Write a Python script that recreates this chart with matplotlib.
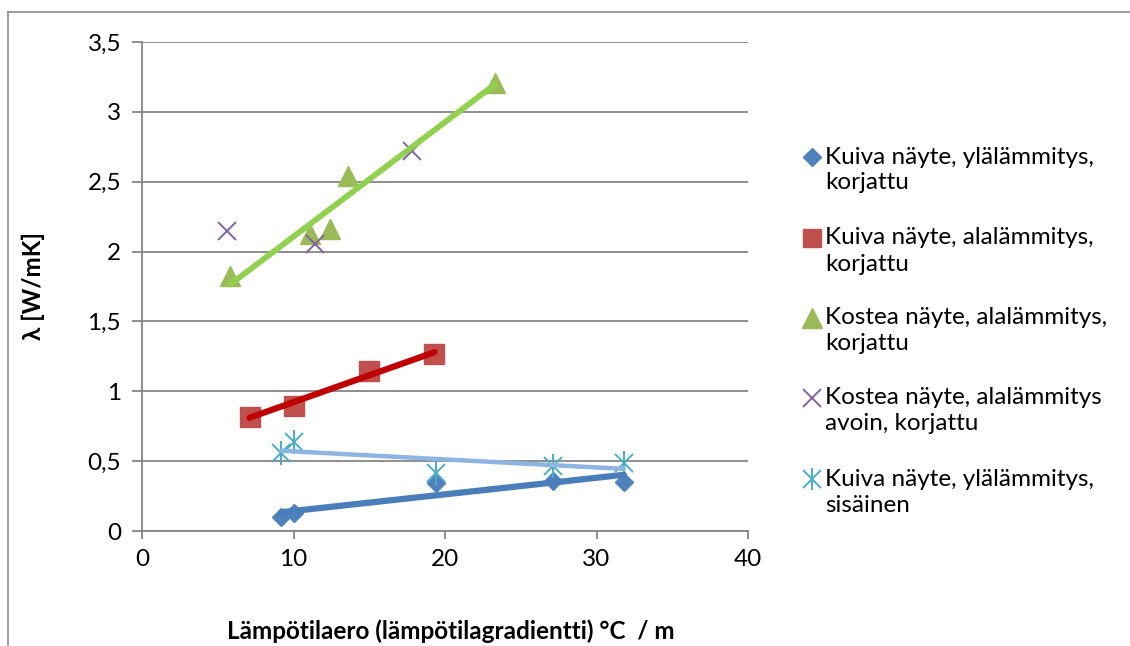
import numpy as np
import matplotlib
matplotlib.use("Agg")
import matplotlib.pyplot as plt
from matplotlib.lines import Line2D
from matplotlib.ticker import FuncFormatter, MultipleLocator

plt.rcParams['font.family'] = ['Lato', 'DejaVu Sans']

# data
kuiva_yla_x = [9.2, 10.0, 19.4, 27.1, 31.8]
kuiva_yla_y = [0.098, 0.127, 0.346, 0.358, 0.353]

kuiva_ala_x = [7.1, 10.0, 15.0, 19.3]
kuiva_ala_y = [0.819, 0.897, 1.146, 1.265]

kostea_ala_x = [5.8, 11.1, 12.4, 13.6, 23.3]
kostea_ala_y = [1.822, 2.128, 2.164, 2.541, 3.209]

kostea_avoin_x = [5.6, 11.4, 17.8]
kostea_avoin_y = [2.147, 2.051, 2.72]

sisainen_x = [9.2, 10.0, 19.4, 27.1, 31.8]
sisainen_y = [0.561, 0.640, 0.418, 0.468, 0.489]

labels = ["Kuiva näyte, ylälämmitys,\nkorjattu",
          "Kuiva näyte, alalämmitys,\nkorjattu",
          "Kostea näyte, alalämmitys,\nkorjattu",
          "Kostea näyte, alalämmitys\navoin, korjattu",
          "Kuiva näyte, ylälämmitys,\nsisäinen"]

fs = 17.5
fig = plt.figure(figsize=(11.3, 6.46), dpi=100)
ax = fig.add_axes([142/1130, 1-531/646, 606/1130, 489/646])

grid_c = '#868686'

ax.plot(kuiva_yla_x, kuiva_yla_y, ls='none', marker='D', ms=9, color='#4F81BD', zorder=3)
ax.plot(kuiva_ala_x, kuiva_ala_y, ls='none', marker='s', ms=14, color='#C0504D', zorder=3)
ax.plot(kostea_ala_x, kostea_ala_y, ls='none', marker='^', ms=15, color='#9BBB59', zorder=3)
ax.plot(kostea_avoin_x, kostea_avoin_y, ls='none', marker='x', ms=13, mew=1.4, color='#8064A2', zorder=3)
ax.plot(sisainen_x, sisainen_y, ls='none', marker='x', ms=13, mew=1.4, color='#4BACC6', zorder=3)
ax.plot(sisainen_x, sisainen_y, ls='none', marker='|', ms=17, mew=1.4, color='#4BACC6', zorder=3)

# linear trendlines
def trend(x, y, color, lw):
    k, b = np.polyfit(x, y, 1)
    xs = np.array([min(x), max(x)])
    ax.plot(xs, k*xs + b, color=color, lw=lw, solid_capstyle='round', zorder=4)

trend(kuiva_yla_x, kuiva_yla_y, '#4A7EBB', 4.5)
trend(kuiva_ala_x, kuiva_ala_y, '#C00000', 4.5)
trend(kostea_ala_x, kostea_ala_y, '#92D050', 4.2)
trend(sisainen_x, sisainen_y, '#8DB4E2', 3.2)

ax.set_xlim(0, 40)
ax.set_ylim(0, 3.5)
ax.xaxis.set_major_locator(MultipleLocator(10))
ax.yaxis.set_major_locator(MultipleLocator(0.5))
ax.yaxis.set_major_formatter(FuncFormatter(lambda v, p: ('%g' % v).replace('.', ',')))
ax.grid(axis='y', color=grid_c, lw=1.3)
ax.set_axisbelow(True)
for s in ['top', 'right']:
    ax.spines[s].set_visible(False)
for s in ['left', 'bottom']:
    ax.spines[s].set_color(grid_c)
    ax.spines[s].set_linewidth(1.3)
ax.tick_params(axis='both', colors=grid_c, labelcolor='black', labelsize=fs, width=1.3)
ax.tick_params(axis='y', length=7, pad=8)
ax.tick_params(axis='x', length=6, pad=7)

ax.set_xlabel("Lämpötilaero (lämpötilagradientti) °C  / m", fontsize=fs, fontweight='bold')
ax.set_ylabel("λ [W/mK]", fontsize=fs, fontweight='bold')
ax.xaxis.set_label_coords(0.51, -0.18)
ax.yaxis.set_label_coords(-0.16, 0.5)

# legend on the right
leg_specs = [dict(marker='D', ms=9, color='#4F81BD'),
             dict(marker='s', ms=13, color='#C0504D'),
             dict(marker='^', ms=14, color='#9BBB59'),
             dict(marker='x', ms=13, mew=1.4, color='#8064A2'),
             dict(marker='x', ms=13, mew=1.4, color='#4BACC6')]
leg_y = [157, 238, 318, 398, 479]
for spec, lab, yp in zip(leg_specs, labels, leg_y):
    fy = 1 - yp/646
    fig.add_artist(Line2D([812/1130], [fy], ls='none', transform=fig.transFigure, **spec))
    if spec['color'] == '#4BACC6':
        fig.add_artist(Line2D([812/1130], [fy], ls='none', marker='|', ms=16, mew=1.4,
                              color='#4BACC6', transform=fig.transFigure))
    for i, line in enumerate(lab.split('\n')):
        fig.text(825/1130, 1 - (yp + 26*i)/646, line, fontsize=fs, va='center', ha='left')

# chart area border (only top and left are visible in the crop)
fig.add_artist(Line2D([8/1130, 1], [1-12/646, 1-12/646], color='#8c8c8c', lw=1.2, transform=fig.transFigure))
fig.add_artist(Line2D([8/1130, 8/1130], [0, 1-12/646], color='#8c8c8c', lw=1.2, transform=fig.transFigure))

fig.savefig('out.png', dpi=100)
